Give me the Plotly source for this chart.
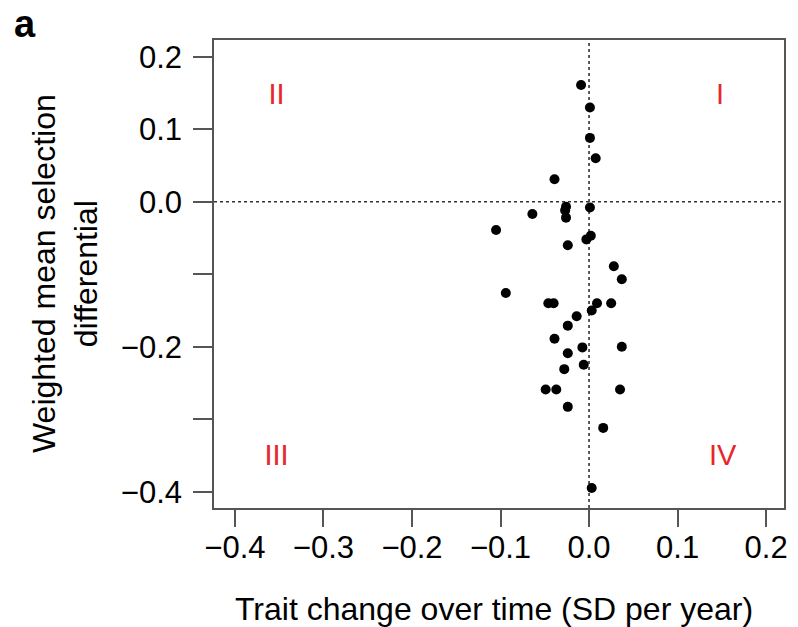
import plotly.graph_objects as go

# Data
trait_change = [-0.009, 0.001, 0.001, 0.0075, -0.039, 0.001, -0.026, -0.027, -0.026,
                -0.064, -0.105, -0.003, 0.002, -0.024, 0.028, 0.037, -0.094, -0.046,
                -0.040, 0.009, 0.025, 0.003, -0.014, -0.024, -0.039, -0.024, -0.0075,
                0.037, -0.028, -0.006, -0.049, -0.037, 0.035, -0.024, 0.016, 0.003]
selection_diff = [0.161, 0.130, 0.088, 0.060, 0.031, -0.008, -0.007, -0.012, -0.022,
                  -0.017, -0.039, -0.052, -0.047, -0.060, -0.089, -0.107, -0.126, -0.140,
                  -0.140, -0.140, -0.140, -0.150, -0.158, -0.171, -0.189, -0.209, -0.201,
                  -0.200, -0.231, -0.225, -0.259, -0.259, -0.259, -0.283, -0.312, -0.395]

x_tickvals = [-0.4, -0.3, -0.2, -0.1, 0.0, 0.1, 0.2]
x_ticktext = ["\u22120.4", "\u22120.3", "\u22120.2", "\u22120.1", "0.0", "0.1", "0.2"]
y_tickvals = [0.2, 0.1, 0.0, -0.1, -0.2, -0.3, -0.4]
y_ticktext = ["0.2", "0.1", "0.0", "", "\u22120.2", "", "\u22120.4"]

quad_labels = ["II", "I", "III", "IV"]
quad_x = [-0.353, 0.148, -0.353, 0.151]
quad_y = [0.145, 0.145, -0.353, -0.353]

FONT = "Liberation Sans, Arial, Helvetica, sans-serif"
AXIS_COLOR = "#555555"

fig = go.Figure()
fig.add_trace(go.Scatter(
    x=trait_change, y=selection_diff, mode="markers",
    marker=dict(color="black", size=10, line=dict(width=0)),
    showlegend=False, hoverinfo="x+y"))

fig.add_trace(go.Scatter(
    x=quad_x, y=quad_y, mode="text", text=quad_labels,
    textfont=dict(family=FONT, size=29, color="#e8262a"),
    textposition="middle center", showlegend=False, hoverinfo="skip"))

fig.add_hline(y=0, line=dict(color="#333333", width=1.6, dash="dot"), layer="below")
fig.add_vline(x=0, line=dict(color="#333333", width=1.6, dash="dot"), layer="below")

fig.update_layout(
    width=798, height=627,
    margin=dict(l=214, r=10, t=40, b=119),
    paper_bgcolor="white", plot_bgcolor="white",
    font=dict(family=FONT, size=31, color="black"),
    xaxis=dict(
        range=[-0.4236, 0.2202], tickvals=x_tickvals, ticktext=x_ticktext,
        showgrid=False, zeroline=False, showline=True, mirror=True,
        linecolor=AXIS_COLOR, linewidth=1.5,
        ticks="outside", ticklen=17, tickwidth=1.5, tickcolor=AXIS_COLOR,
        tickfont=dict(family=FONT, size=31, color="black"),
        ticklabelstandoff=-6,
    ),
    yaxis=dict(
        range=[-0.4225, 0.223], tickvals=y_tickvals, ticktext=y_ticktext,
        showgrid=False, zeroline=False, showline=True, mirror=True,
        linecolor=AXIS_COLOR, linewidth=1.5,
        ticks="outside", ticklen=19, tickwidth=1.5, tickcolor=AXIS_COLOR,
        tickfont=dict(family=FONT, size=31, color="black"),
        ticklabelstandoff=5,
    ),
    annotations=[
        dict(text="Trait change over time (SD per year)",
             xref="paper", yref="paper", x=0.5, y=0, xanchor="center", yanchor="middle",
             xshift=-5, yshift=-101, showarrow=False,
             font=dict(family=FONT, size=32, color="black")),
        dict(text="Weighted mean selection<br>differential", textangle=-90,
             xref="paper", yref="paper", x=0, y=0.5, xanchor="center", yanchor="middle",
             xshift=-149, showarrow=False,
             font=dict(family=FONT, size=32, color="black")),
        dict(text="<b>a</b>", xref="paper", yref="paper", x=0, y=1,
             xanchor="center", yanchor="top", xshift=-189, yshift=39,
             showarrow=False, font=dict(family=FONT, size=38, color="black")),
    ],
)

fig.write_html("out.html",
               config={"displayModeBar": False},
               post_script="document.body.style.margin='0';document.body.style.padding='0';")
